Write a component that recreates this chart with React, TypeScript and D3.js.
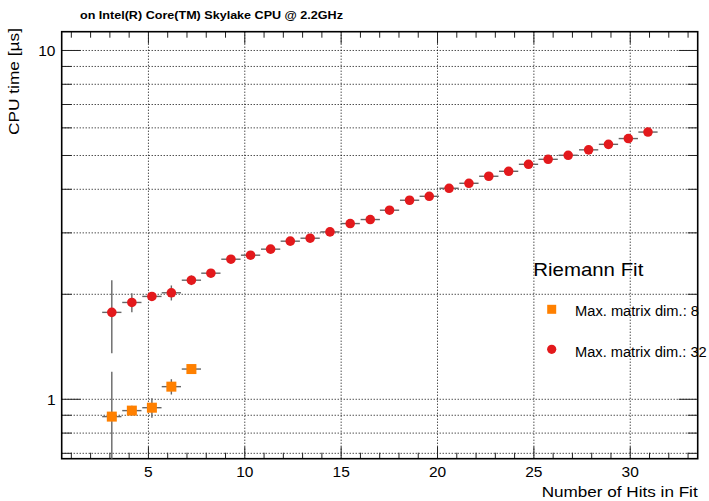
import * as d3 from 'd3';

const WIDTH = 709;
const HEIGHT = 501;
const FRAME = { left: 61.7, right: 697.7, top: 31.7, bottom: 458.7 };

// Number of hits (bin centres as drawn)
const hitsR32 = [3.1, 4.14, 5.18, 6.19, 7.23, 8.24, 9.28, 10.3, 11.34, 12.36, 13.39, 14.42, 15.47, 16.51,
  17.51, 18.55, 19.57, 20.6, 21.63, 22.66, 23.69, 24.72, 25.74, 26.78, 27.84, 28.87, 29.9, 30.92];
const timeR32 = [1.775, 1.895, 1.972, 2.02, 2.195, 2.299, 2.521, 2.589, 2.694, 2.84, 2.896, 3.019, 3.19, 3.276,
  3.484, 3.721, 3.819, 4.027, 4.162, 4.359, 4.505, 4.717, 4.875, 5.006, 5.19, 5.382, 5.591, 5.836];
const errR32 = [0.42, 0.12, 0.03, 0.1, 0.07, 0.06, 0.03, 0.05, 0.07, 0.03, 0.06, 0.05, 0.03, 0.08,
  0.06, 0.1, 0.03, 0.04, 0.08, 0.04, 0.05, 0.04, 0.04, 0.06, 0.03, 0.1, 0.04, 0.03];

const hitsR8 = [3.1, 4.14, 5.18, 6.19, 7.23];
const timeR8 = [0.892, 0.928, 0.946, 1.087, 1.221];
const errR8 = [0.308, 0.03, 0.061, 0.055, 0.02];

const X_MAJOR = [5, 10, 15, 20, 25, 30];
const X_MINOR = [1, 2, 3, 4, 6, 7, 8, 9, 11, 12, 13, 14, 16, 17, 18, 19, 21, 22, 23, 24, 26, 27, 28, 29, 31, 32, 33];
const Y_MAJOR = [1, 10];
const Y_MINOR = [0.7, 0.8, 0.9, 2, 3, 4, 5, 6, 7, 8, 9];

const RED = '#e3191c';
const ORANGE = '#ff8000';
const ERR = '#666';
const FONT = 'Liberation Sans, Arial, Helvetica, sans-serif';

export default function App() {
  const x = d3.scaleLinear().domain([0.5, 33.5]).range([FRAME.left, FRAME.right]);
  const y = d3.scaleLog().domain([0.6756, 11.32]).range([FRAME.bottom, FRAME.top]);
  const clipY = (v: number) => Math.max(FRAME.top, Math.min(FRAME.bottom, y(Math.max(v, 0.01))));

  const errBars = (xs: number[], ys: number[], es: number[], key: string) =>
    xs.map((xv, i) => (
      <g key={key + i} stroke={ERR} strokeWidth={1.4}>
        <line x1={x(xv - 0.5)} x2={x(xv + 0.5)} y1={y(ys[i])} y2={y(ys[i])} />
        <line x1={x(xv)} x2={x(xv)} y1={clipY(ys[i] + es[i])} y2={clipY(ys[i] - es[i])} />
      </g>
    ));

  return (
    <svg width={WIDTH} height={HEIGHT} style={{ position: 'absolute', left: 0, top: 0, background: '#fff' }}
      fontFamily={FONT}>
      {/* grid */}
      <g stroke="#000" strokeWidth={1} strokeDasharray="1 2">
        {[...Y_MAJOR, ...Y_MINOR].map((v) => (
          <line key={'gy' + v} x1={FRAME.left} x2={FRAME.right} y1={y(v)} y2={y(v)} />
        ))}
        {X_MAJOR.map((v) => (
          <line key={'gx' + v} x1={x(v)} x2={x(v)} y1={FRAME.top} y2={FRAME.bottom} />
        ))}
      </g>

      {/* ticks */}
      <g stroke="#222" strokeWidth={1}>
        {X_MAJOR.map((v) => (
          <g key={'tx' + v}>
            <line x1={x(v)} x2={x(v)} y1={FRAME.bottom} y2={FRAME.bottom - 12} />
            <line x1={x(v)} x2={x(v)} y1={FRAME.top} y2={FRAME.top + 12} />
          </g>
        ))}
        {X_MINOR.map((v) => (
          <g key={'tmx' + v}>
            <line x1={x(v)} x2={x(v)} y1={FRAME.bottom} y2={FRAME.bottom - 6} />
            <line x1={x(v)} x2={x(v)} y1={FRAME.top} y2={FRAME.top + 6} />
          </g>
        ))}
        {Y_MAJOR.map((v) => (
          <g key={'ty' + v}>
            <line x1={FRAME.left} x2={FRAME.left + 19} y1={y(v)} y2={y(v)} />
            <line x1={FRAME.right} x2={FRAME.right - 19} y1={y(v)} y2={y(v)} />
          </g>
        ))}
        {Y_MINOR.map((v) => (
          <g key={'tmy' + v}>
            <line x1={FRAME.left} x2={FRAME.left + 10} y1={y(v)} y2={y(v)} />
            <line x1={FRAME.right} x2={FRAME.right - 10} y1={y(v)} y2={y(v)} />
          </g>
        ))}
      </g>

      {/* frame */}
      <rect x={FRAME.left} y={FRAME.top} width={FRAME.right - FRAME.left} height={FRAME.bottom - FRAME.top}
        fill="none" stroke="#000" strokeWidth={1.6} />

      {/* tick labels */}
      <g fontSize={15.5} fill="#000">
        {X_MAJOR.map((v) => (
          <text key={'lx' + v} x={x(v)} y={FRAME.bottom + 18.6} textAnchor="middle">{v}</text>
        ))}
        {Y_MAJOR.map((v) => (
          <text key={'ly' + v} x={55.5} y={y(v) + 6} textAnchor="end">{v}</text>
        ))}
      </g>

      {/* axis titles */}
      <text x={FRAME.right} y={496.7} textAnchor="end" fontSize={15.5} textLength={156}
        lengthAdjust="spacingAndGlyphs">Number of Hits in Fit</text>
      <text transform="translate(18.5,28) rotate(-90)" textAnchor="end" fontSize={15} textLength={107}
        lengthAdjust="spacingAndGlyphs">CPU time [µs]</text>
      <text x={80} y={19} fontSize={10.5} fontWeight="bold" textLength={263}
        lengthAdjust="spacingAndGlyphs">on Intel(R) Core(TM) Skylake CPU @ 2.2GHz</text>

      {/* error bars */}
      {errBars(hitsR32, timeR32, errR32, 'e32')}
      {errBars(hitsR8, timeR8, errR8, 'e8')}

      {/* markers */}
      {hitsR32.map((xv, i) => (
        <circle key={'c' + i} cx={x(xv)} cy={y(timeR32[i])} r={4.8} fill={RED} />
      ))}
      {hitsR8.map((xv, i) => (
        <rect key={'s' + i} x={x(xv) - 5} y={y(timeR8[i]) - 5} width={10} height={10} fill={ORANGE} />
      ))}

      {/* legend */}
      <text x={533.3} y={275.7} fontSize={19} textLength={110} lengthAdjust="spacingAndGlyphs">Riemann Fit</text>
      <rect x={547.2} y={304.8} width={9} height={9} fill={ORANGE} />
      <text x={575} y={316} fontSize={14} textLength={124} lengthAdjust="spacingAndGlyphs">Max. matrix dim.: 8</text>
      <circle cx={551.7} cy={349.3} r={4.6} fill={RED} />
      <text x={575} y={357} fontSize={14} textLength={131.7} lengthAdjust="spacingAndGlyphs">Max. matrix dim.: 32</text>
    </svg>
  );
}
